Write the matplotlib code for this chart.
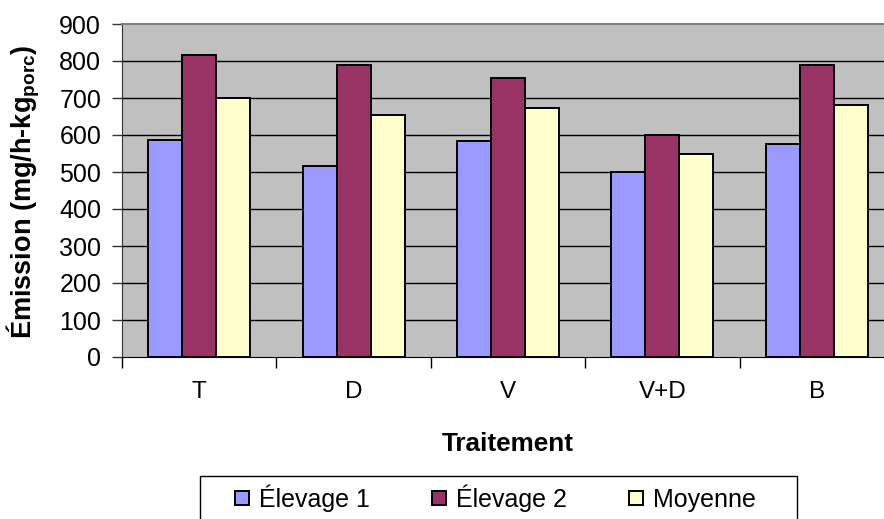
import numpy as np
import matplotlib.pyplot as plt
from matplotlib.patches import Rectangle

plt.rcParams['font.family'] = ['Liberation Sans', 'DejaVu Sans']
plt.rcParams['mathtext.fontset'] = 'custom'
plt.rcParams['mathtext.rm'] = 'Liberation Sans'
plt.rcParams['mathtext.bf'] = 'Liberation Sans:bold'

traitements = ['T', 'D', 'V', 'V+D', 'B']
elevage1 = [587, 515, 583, 500, 577]
elevage2 = [817, 788, 755, 599, 788]
moyenne = [700, 654, 672, 549, 682]

W, H = 884, 519
fig = plt.figure(figsize=(W / 100, H / 100), dpi=100)
# plot area runs a little past the right edge of the figure
ax = fig.add_axes([122 / W, 1 - 357 / H, 772 / W, 333 / H])
ax.set_facecolor('#C0C0C0')

x = np.arange(len(traitements))
w = 0.22
kw = dict(width=w, edgecolor='black', linewidth=1.4, zorder=3)
ax.bar(x - w, elevage1, color='#9999FF', label='Élevage 1', **kw)
ax.bar(x, elevage2, color='#993366', label='Élevage 2', **kw)
ax.bar(x + w, moyenne, color='#FFFFCC', label='Moyenne', **kw)

ax.set_xlim(-0.5, len(traitements) - 0.5)
ax.set_ylim(0, 900)
ax.set_yticks(range(0, 901, 100))
for v in range(100, 900, 100):
    ax.axhline(v, color='black', lw=1, zorder=1)

ax.set_xticks(x)
ax.set_xticklabels(traitements, fontsize=17.5)
ax.set_xticks(np.arange(-0.5, len(traitements), 1), minor=True)
ax.tick_params(axis='x', which='major', length=0, pad=17)
ax.tick_params(axis='x', which='minor', length=8, width=1, color='black')
ax.tick_params(axis='y', length=7, width=1, pad=8, labelsize=18, color='#333333')

ax.spines['top'].set_color('#808080')
ax.spines['top'].set_linewidth(1.5)
ax.spines['left'].set_color('#333333')
ax.spines['bottom'].set_color('black')
ax.spines['right'].set_visible(False)

ax.set_xlabel('Traitement', fontsize=18.8, fontweight='bold', labelpad=21)
fig.text(23 / W, 1 - 192 / H, r'Émission (mg/h-kg$_{\mathbf{porc}}$)',
         rotation=90, ha='center', va='center', fontsize=19.5, fontweight='bold')

fs = 18
px = fs * 100 / 72
fig.legend(loc='center left', bbox_to_anchor=(235 / W, 1 - 498 / H),
           ncol=3, frameon=False, fontsize=fs, borderpad=0, borderaxespad=0,
           handlelength=14 / px, handleheight=12 / px, handletextpad=10 / px,
           columnspacing=62 / px)
fig.patches.append(Rectangle((200 / W, -0.1), (797 - 200) / W, 0.1 + 1 - 476 / H,
                             transform=fig.transFigure, fill=False,
                             edgecolor='black', linewidth=1))

fig.savefig('out.png', dpi=100)
